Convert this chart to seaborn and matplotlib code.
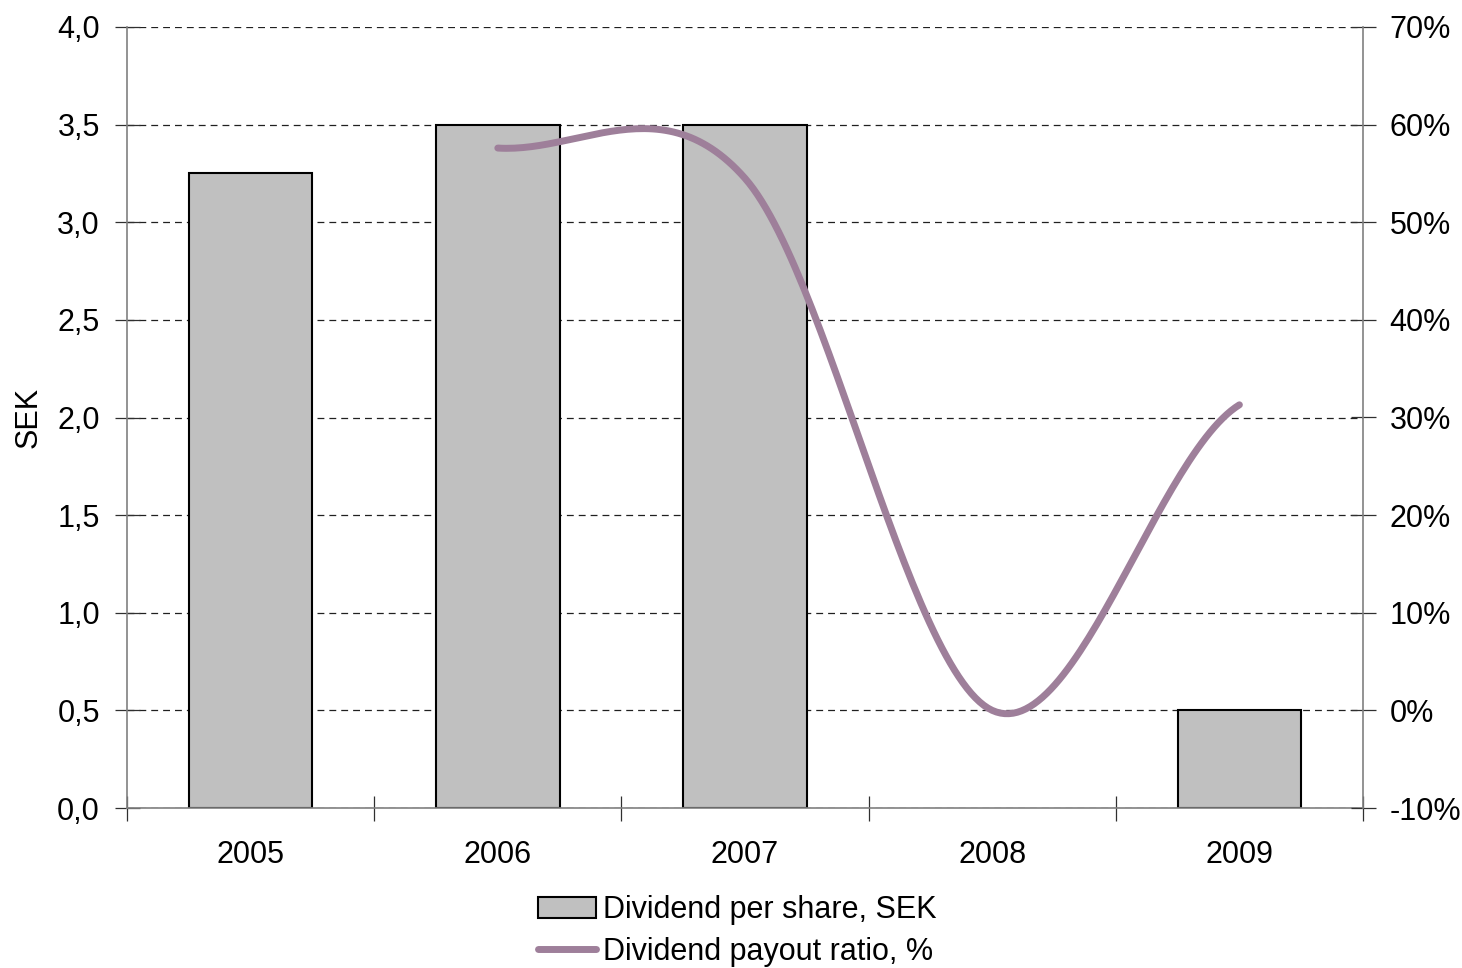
import numpy as np
import pandas as pd
import matplotlib
matplotlib.use("Agg")
import matplotlib.pyplot as plt
from matplotlib.patches import Patch
from matplotlib.lines import Line2D
from matplotlib.ticker import FixedLocator
import seaborn as sns

# Data
years = ["2005", "2006", "2007", "2008", "2009"]
dividend_sek = [3.25, 3.5, 3.5, np.nan, 0.5]
payout_pct = [np.nan, 57.6, 54.5, 0.0, 31.3]

bar_label = "Dividend per share, SEK"
line_label = "Dividend payout ratio, %"

sns.set_theme(style="white")
plt.rcParams["font.family"] = ["Liberation Sans", "DejaVu Sans"]
plt.rcParams["text.color"] = "black"
plt.rcParams["axes.labelcolor"] = "black"
FS = 22

bar_color = "#C0C0C0"
line_color = "#9E7F9A"
spine_color = "#808080"
tick_color = "#303030"

df = pd.DataFrame({"year": years, "dividend": dividend_sek, "payout": payout_pct})

fig = plt.figure(figsize=(14.62, 9.68), dpi=100)
ax = fig.add_axes([127 / 1462, 1 - 808 / 968, (1363 - 127) / 1462, (808 - 27) / 968])

sns.barplot(data=df, x="year", y="dividend", order=years, color=bar_color,
            edgecolor="black", linewidth=1.5, width=0.5, saturation=1,
            errorbar=None, ax=ax, zorder=2)

ax.set_xlim(-0.5, len(years) - 0.5)
ax.set_ylim(0, 4.0)
yt = np.arange(0, 4.01, 0.5)
ax.set_yticks(yt)
ax.set_yticklabels([f"{v:.1f}".replace(".", ",") for v in yt], fontsize=FS)
ax.set_xticks(range(len(years)))
ax.set_xticklabels(years, fontsize=FS)
ax.xaxis.set_minor_locator(FixedLocator(np.arange(-0.5, len(years), 1.0)))
ax.tick_params(axis="x", which="major", length=0, pad=23, labelcolor="black")
ax.tick_params(axis="x", which="minor", direction="inout", length=18,
               width=0.9, color=tick_color, bottom=True)
ax.tick_params(axis="y", direction="inout", length=18, width=0.9,
               color=tick_color, left=True, pad=10.5, labelcolor="black")
ax.set_xlabel("")
ax.set_ylabel("SEK", fontsize=FS, labelpad=10, color="black")

ax.yaxis.grid(True, linestyle=(0, (5.5, 4)), color="#202020", linewidth=0.9)
ax.set_axisbelow(True)
ax.spines["top"].set_visible(False)
ax.spines["right"].set_visible(False)
for s in ["left", "bottom"]:
    ax.spines[s].set_color(spine_color)
    ax.spines[s].set_linewidth(1.2)

# Payout ratio on secondary axis, smoothed with a Catmull-Rom spline
ax2 = ax.twinx()
pts = df.dropna(subset=["payout"])
xp = np.array([years.index(y) for y in pts["year"]], dtype=float)
yp = pts["payout"].to_numpy(dtype=float)
xe = np.concatenate([[xp[0]], xp, [xp[-1]]])
ye = np.concatenate([[yp[0]], yp, [yp[-1]]])
xs, ys = [], []
t = np.linspace(0, 1, 60)
h00 = 2 * t**3 - 3 * t**2 + 1
h10 = t**3 - 2 * t**2 + t
h01 = -2 * t**3 + 3 * t**2
h11 = t**3 - t**2
for i in range(1, len(xe) - 2):
    m0 = (ye[i + 1] - ye[i - 1]) / 2
    m1 = (ye[i + 2] - ye[i]) / 2
    xs.append(xe[i] + t * (xe[i + 1] - xe[i]))
    ys.append(h00 * ye[i] + h10 * m0 + h01 * ye[i + 1] + h11 * m1)
curve = pd.DataFrame({"x": np.concatenate(xs), "y": np.concatenate(ys)})
sns.lineplot(data=curve, x="x", y="y", ax=ax2, color=line_color, linewidth=5,
             sort=False, estimator=None, solid_capstyle="round")

ax2.set_xlim(-0.5, len(years) - 0.5)
ax2.set_ylim(-10, 70)
ticks2 = np.arange(-10, 71, 10)
ax2.set_yticks(ticks2)
ax2.set_yticklabels([f"{int(v)}%" for v in ticks2], fontsize=FS)
ax2.tick_params(axis="y", direction="inout", length=18, width=0.9,
                color=tick_color, right=True, pad=10, labelcolor="black")
ax2.set_ylabel("")
ax2.set_xlabel("")
for s in ["top", "left", "bottom"]:
    ax2.spines[s].set_visible(False)
ax2.spines["right"].set_color(spine_color)
ax2.spines["right"].set_linewidth(1.2)
ax2.grid(False)

handles = [
    Patch(facecolor=bar_color, edgecolor="black", linewidth=1.5),
    Line2D([0], [0], color=line_color, linewidth=5, solid_capstyle="round"),
]
fig.legend(handles, [bar_label, line_label], loc="center",
           bbox_to_anchor=(737 / 1462, 1 - 931 / 968), frameon=False,
           fontsize=FS, handlelength=1.9, handleheight=0.7,
           handletextpad=0.22, labelspacing=0.4, borderpad=0,
           labelcolor="black")

fig.savefig("out.png", dpi=100)
